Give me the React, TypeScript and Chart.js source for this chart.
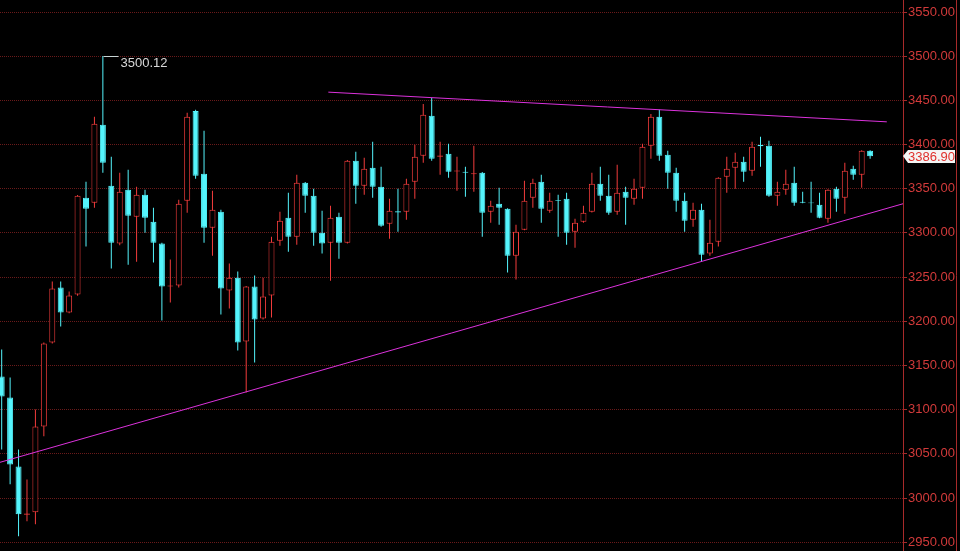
import React, { useEffect, useRef } from 'react';
import { Chart, registerables } from 'chart.js';

Chart.register(...registerables);

// Daily index candles: open / high / low / close
const opens = [
  3137.6, 3113.8, 3035.8, 2981.0, 2983.9, 3081.0, 3176.0, 3238.1, 3209.9, 3230.2,
  3339.8, 3334.2, 3422.3, 3353.4, 3287.9, 3348.9, 3318.4, 3343.2, 3312.7, 3287.9,
  3239.3, 3240.4, 3336.4, 3438.1, 3366.9, 3305.9, 3324.0, 3234.7, 3249.4, 3177.1,
  3239.3, 3203.1, 3229.1, 3291.2, 3317.2, 3295.8, 3356.8, 3342.1, 3300.3, 3289.0,
  3318.4, 3289.0, 3381.6, 3353.4, 3373.7, 3352.3, 3310.4, 3324.5, 3324.0, 3357.9,
  3387.3, 3432.5, 3386.2, 3389.5, 3369.5, 3369.2, 3366.5, 3368.1, 3324.0, 3333.0,
  3327.4, 3274.3, 3303.7, 3339.8, 3357.9, 3325.1, 3337.0, 3338.7, 3301.4, 3312.7,
  3324.0, 3355.6, 3342.1, 3324.0, 3346.6, 3338.7, 3351.1, 3398.6, 3431.4, 3388.4,
  3368.1, 3336.4, 3315.0, 3326.3, 3276.6, 3290.1, 3363.5, 3373.7, 3380.5, 3370.3,
  3399.7, 3398.6, 3342.1, 3348.9, 3356.8, 3335.3, 3334.5, 3331.9, 3316.1, 3350.0,
  3339.8, 3372.6, 3365.8, 3392.9,
];
const highs = [
  3168.0, 3136.4, 3055.0, 3021.0, 3100.3, 3176.0, 3244.9, 3244.9, 3233.6, 3343.0,
  3357.9, 3431.4, 3500.12, 3386.2, 3368.1, 3371.5, 3352.3, 3348.9, 3328.5, 3289.0,
  3269.8, 3337.6, 3435.9, 3439.3, 3415.5, 3347.7, 3326.3, 3265.3, 3256.2, 3240.0,
  3251.7, 3249.4, 3295.8, 3324.0, 3345.5, 3365.8, 3357.5, 3350.0, 3325.1, 3330.8,
  3322.9, 3382.5, 3391.8, 3385.0, 3403.1, 3374.9, 3338.7, 3350.0, 3361.3, 3399.7,
  3446.0, 3452.8, 3403.1, 3400.8, 3386.2, 3374.9, 3398.6, 3369.0, 3336.4, 3351.1,
  3328.0, 3309.3, 3359.0, 3361.3, 3365.8, 3345.5, 3343.2, 3345.5, 3316.1, 3330.8,
  3368.1, 3374.9, 3365.8, 3377.1, 3352.3, 3361.3, 3400.8, 3434.7, 3439.3, 3392.9,
  3373.7, 3345.5, 3334.2, 3333.0, 3315.0, 3363.0, 3386.2, 3390.7, 3386.2, 3403.1,
  3408.8, 3404.2, 3357.9, 3371.5, 3374.9, 3346.6, 3357.9, 3345.5, 3349.5, 3352.3,
  3379.4, 3376.0, 3393.5, 3393.5,
];
const lows = [
  3055.0, 3015.5, 2956.8, 2973.7, 2970.3, 3069.8, 3175.0, 3194.0, 3209.0, 3229.0,
  3284.5, 3328.5, 3368.1, 3259.6, 3286.0, 3264.1, 3267.5, 3300.3, 3266.4, 3200.8,
  3221.2, 3238.1, 3322.9, 3361.3, 3289.0, 3274.3, 3207.6, 3214.4, 3166.9, 3119.5,
  3153.4, 3202.0, 3204.2, 3285.6, 3278.8, 3286.7, 3322.9, 3285.6, 3276.6, 3246.0,
  3270.9, 3288.0, 3333.0, 3343.2, 3339.8, 3307.0, 3293.5, 3301.4, 3315.0, 3338.7,
  3379.4, 3381.6, 3365.8, 3362.4, 3347.7, 3341.0, 3346.6, 3295.8, 3311.5, 3309.3,
  3255.1, 3247.2, 3303.0, 3328.5, 3311.5, 3322.9, 3295.8, 3286.7, 3283.3, 3311.5,
  3323.0, 3336.4, 3320.6, 3320.6, 3309.3, 3331.9, 3338.7, 3383.9, 3381.6, 3350.0,
  3324.0, 3301.4, 3307.0, 3267.5, 3274.3, 3284.5, 3345.5, 3350.0, 3357.9, 3364.7,
  3374.9, 3341.0, 3330.8, 3343.2, 3330.8, 3333.5, 3322.9, 3316.5, 3311.5, 3324.0,
  3321.7, 3360.2, 3351.1, 3383.9,
];
const closes = [
  3115.0, 3038.0, 2981.6, 2982.5, 3081.0, 3174.8, 3237.0, 3209.9, 3229.1, 3342.1,
  3327.4, 3423.4, 3379.4, 3289.0, 3346.6, 3319.5, 3343.2, 3317.2, 3289.0, 3239.3,
  3240.4, 3333.0, 3431.4, 3364.7, 3305.9, 3326.3, 3237.0, 3249.4, 3176.0, 3239.3,
  3202.0, 3228.0, 3290.1, 3313.8, 3295.8, 3356.8, 3342.1, 3300.3, 3287.9, 3317.2,
  3289.0, 3381.6, 3353.4, 3372.6, 3352.3, 3308.2, 3325.1, 3323.0, 3355.6, 3386.2,
  3433.6, 3383.9, 3387.5, 3369.2, 3370.5, 3368.0, 3367.5, 3322.9, 3330.8, 3328.5,
  3274.3, 3301.4, 3336.4, 3356.8, 3327.4, 3336.4, 3336.0, 3300.3, 3311.5, 3322.9,
  3355.6, 3342.1, 3322.9, 3345.5, 3339.8, 3350.0, 3397.5, 3431.4, 3387.3, 3368.1,
  3336.4, 3313.8, 3326.3, 3275.4, 3289.0, 3362.4, 3372.6, 3380.5, 3369.2, 3397.5,
  3398.0, 3342.1, 3346.6, 3355.6, 3334.2, 3334.2, 3333.5, 3317.2, 3348.9, 3338.7,
  3370.3, 3365.8, 3392.9, 3386.9,
];

// Hand-drawn trend lines (x in candle-index units)
const upperTrend = [
  { x: 38.74, y: 3459.3 },
  { x: 104.98, y: 3425.7 },
];
const lowerTrend = [
  { x: -0.2, y: 3040.4 },
  { x: 106.9, y: 3333.0 },
];

// Visible window
const xMin = -0.2;
const xMax = 106.9;
const yMin = 2950;
const yMax = 3550;
const yStep = 50;

const UP = '#f23c3c';
const DOWN = '#54f4fc';
const AXIS_RED = '#a82a2a';
const LABEL_RED = '#d23a3a';
const FONT = 'Arial, "Liberation Sans", sans-serif';

const overlayPlugin = {
  id: 'klineOverlay',
  afterDraw(chart: any) {
    const { ctx, scales } = chart;
    const xs = scales.x;
    const ys = scales.y;
    const H = chart.height;

    ctx.save();
    // right frame lines
    ctx.strokeStyle = AXIS_RED;
    ctx.lineWidth = 1;
    ctx.beginPath();
    const axisX = Math.round(chart.chartArea.right) + 0.5;
    ctx.moveTo(axisX, 0);
    ctx.lineTo(axisX, H);
    ctx.moveTo(chart.width - 3.5, 0);
    ctx.lineTo(chart.width - 3.5, H);
    ctx.stroke();

    // highest-high marker
    let hi = 0;
    highs.forEach((v, i) => {
      if (v > highs[hi]) hi = i;
    });
    const hx = Math.round(xs.getPixelForValue(hi)) + 0.5;
    const hy = Math.round(ys.getPixelForValue(highs[hi])) + 0.5;
    ctx.strokeStyle = '#c8d4d4';
    ctx.beginPath();
    ctx.moveTo(hx, hy);
    ctx.lineTo(hx + 15, hy);
    ctx.stroke();
    ctx.fillStyle = '#d8d8d8';
    ctx.font = `13px ${FONT}`;
    ctx.textBaseline = 'top';
    ctx.textAlign = 'left';
    ctx.fillText(highs[hi].toFixed(2), hx + 17, hy);

    // last price tag
    const last = closes[closes.length - 1];
    const ly = Math.round(ys.getPixelForValue(last));
    const left = chart.chartArea.right;
    ctx.fillStyle = '#f4f4f4';
    ctx.beginPath();
    ctx.moveTo(left, ly);
    ctx.lineTo(left + 5, ly - 6);
    ctx.lineTo(chart.width - 5, ly - 6);
    ctx.lineTo(chart.width - 5, ly + 7);
    ctx.lineTo(left + 5, ly + 7);
    ctx.closePath();
    ctx.fill();
    ctx.fillStyle = '#e0302c';
    ctx.textBaseline = 'middle';
    ctx.fillText(last.toFixed(2), left + 5, ly + 1);
    ctx.restore();
  },
};

export default function App() {
  const canvasRef = useRef<HTMLCanvasElement | null>(null);

  useEffect(() => {
    if (!canvasRef.current) return;
    const up = closes.map((c, i) => c >= opens[i]);
    const chart = new Chart(canvasRef.current, {
      type: 'bar',
      data: {
        datasets: [
          {
            type: 'line',
            label: 'upper',
            data: upperTrend,
            borderColor: '#dc32dc',
            borderWidth: 1,
            pointRadius: 0,
            fill: false,
            tension: 0,
            order: 0,
          } as any,
          {
            type: 'line',
            label: 'lower',
            data: lowerTrend,
            borderColor: '#dc32dc',
            borderWidth: 1,
            pointRadius: 0,
            fill: false,
            tension: 0,
            order: 0,
          } as any,
          {
            type: 'bar',
            label: 'body',
            data: closes.map((c, i) => ({ x: i, y: [opens[i], c] })) as any,
            backgroundColor: up.map((u) => (u ? '#000000' : DOWN)),
            borderColor: up.map((u) => (u ? UP : DOWN)),
            borderWidth: 1,
            borderSkipped: false,
            barThickness: 6,
            grouped: false,
            inflateAmount: 0,
            order: 1,
          } as any,
          {
            type: 'bar',
            label: 'wick',
            data: closes.map((_, i) => ({ x: i, y: [lows[i], highs[i]] })) as any,
            backgroundColor: up.map((u) => (u ? UP : DOWN)),
            borderWidth: 0,
            barThickness: 1,
            grouped: false,
            inflateAmount: 0,
            order: 2,
          } as any,
        ],
      },
      options: {
        responsive: false,
        animation: false,
        devicePixelRatio: 1,
        layout: { padding: { top: 12, bottom: 8, left: 0, right: 0 } },
        plugins: {
          legend: { display: false },
          tooltip: { enabled: false },
        },
        scales: {
          x: {
            type: 'linear',
            min: xMin,
            max: xMax,
            offset: false,
            display: false,
          },
          y: {
            type: 'linear',
            position: 'right',
            min: yMin,
            max: yMax,
            ticks: {
              stepSize: yStep,
              color: LABEL_RED,
              padding: 1,
              font: { family: FONT, size: 13 },
              callback: (v: any) => Number(v).toFixed(2),
            },
            grid: {
              color: '#6a1a1a',
              lineWidth: 1,
              tickColor: AXIS_RED,
              tickLength: 4,
            },
            border: { display: true, color: AXIS_RED, width: 1, dash: [1, 1] },
            afterFit: (s: any) => {
              s.width = 57;
            },
          },
        },
      } as any,
      plugins: [overlayPlugin],
    });
    return () => chart.destroy();
  }, []);

  return (
    <div
      style={{
        position: 'fixed',
        left: 0,
        top: 0,
        width: 960,
        height: 551,
        background: '#000000',
      }}
    >
      <canvas ref={canvasRef} width={960} height={551} />
    </div>
  );
}
